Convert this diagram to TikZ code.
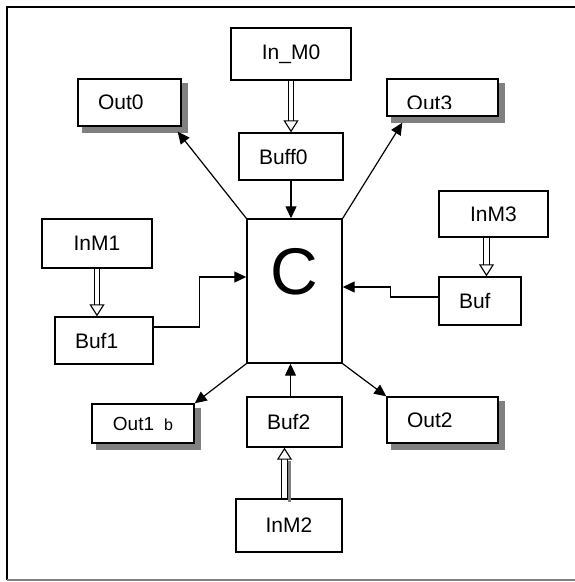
\documentclass[tikz,border=0pt]{standalone}
\usepackage{fontspec}
\setmainfont{Liberation Sans}
\usetikzlibrary{arrows.meta,calc}
\definecolor{shadowgray}{RGB}{128,128,128}
\tikzset{box/.style={draw,rectangle,line width=1.4pt,inner sep=0pt,fill=white,
		font=\fontsize{21}{24}\selectfont},
	lpad/.style={align=left,inner xsep=20pt,text width=#1},
	link/.style={line width=1.2pt,-{Triangle[length=12pt,width=11pt]}},
	hollow/.style={double,double distance=4.5pt,line width=1.1pt,
		-{Triangle[open,length=12pt,width=15pt]}},
	shade/.style={draw=shadowgray,line width=3.5pt},
	dropband/.style={draw=shadowgray,line width=5.3pt}}

\begin{document}
\begin{tikzpicture}
	[x=1pt,y=-1pt]
	\useasboundingbox (0,0) rectangle (575,582);
	\draw[line width=1.5pt] (578,7) -- (7,7) -- (7,580);
	\draw[shadowgray,line width=1.5pt] (7,580) -- (578,580);
	
	\node [box,minimum width=120pt,minimum height=52pt] (InM0) at (291,54) {In\_M0};
	\node [box,lpad=64pt,minimum height=47pt] (Buff0) at (291,156.5) {Buff0};
	\node [box,lpad=63pt,minimum height=47pt] (Out0) at (129.5,102.5) {Out0};
	\node [box,minimum width=111pt,minimum height=37pt] (Out3) at (442.5,97.5) {};
	\begin{scope}
		\clip (Out3.north west) rectangle ([yshift=8pt]Out3.south east);
		\node [box,draw=none,fill=none,anchor=base west] (Out3txt) at (406,110) {Out3};
	\end{scope}
	\node [box,minimum width=95pt,minimum height=144pt,text height=7pt,text depth=0pt,
		font=\fontsize{66}{70}\selectfont] (C) at (294.5,291) {C};
	\node [box,minimum width=110pt,minimum height=49pt] (InM1) at (97,243.5) {InM1};
	\node [box,lpad=58pt,minimum height=47pt] (Buf1) at (104,340.5) {Buf1};
	\node [box,minimum width=109pt,minimum height=46pt] (InM3) at (493.5,214) {InM3};
	\node [box,lpad=42pt,minimum height=48pt] (Buf) at (480,301) {Buf};
	\node [box,minimum width=102pt,minimum height=39pt,font=\fontsize{19}{22}\selectfont]
		(Out1) at (143,423.5) {Out1\hspace{10pt}{\fontsize{16}{16}\selectfont b}};
	\node [box,lpad=55pt,minimum height=50pt] (Buf2) at (294.5,422) {Buf2};
	\node [box,lpad=71pt,minimum height=46pt] (Out2) at (442.5,420) {Out2};
	\node [box,minimum width=106pt,minimum height=53pt] (InM2) at (289,525.5) {InM2};
	
	\foreach \n in {Out0,Out3,Out1,Out2}
	\draw[dropband] ([shift={(3.35pt,-5pt)}]\n.north east) |- ([shift={(5pt,-3.35pt)}]\n.south west);
	
	\draw[hollow] (InM0.south) -- (InM0.south |- Buff0.north);
	\draw[hollow] (InM1.south) -- (InM1.south |- Buf1.north);
	\draw[hollow] ($(InM3.south)+(-7,0)$) -- ($(InM3.south |- Buf.north)+(-7,0)$);
	\draw[shade] ($(InM2.north)+(0.5,4)$) -- ($(InM2.north |- Buf2.south)+(0.5,13)$);
	\draw[hollow] ($(InM2.north)+(-4.5,0)$) -- ($(InM2.north |- Buf2.south)+(-4.5,0)$);
	
	\draw[link] (Buff0.south) -- (Buff0.south |- C.north);
	\draw[link] ($(Buf2.north)+(-4,0)$) -- ($(Buf2.north |- C.south)+(-4,0)$);
	\draw[link] (C.north west) -- ([shift={(-4pt,-5pt)}]Out0.south east);
	\draw[link] (C.north east) -- ([shift={(16pt,-6pt)}]Out3.south west);
	\draw[link] (C.south west) -- (Out1.north east);
	\draw[link] (C.south east) -- (Out2.north west);
	\draw[link] ([yshift=13.5pt]Buf1.east) -- ++(46pt,0) |- ([yshift=14pt]C.west);
	\draw[link] ([yshift=4pt]Buf.west) -- ++(-48pt,0) |- ([yshift=4pt]C.east);
\end{tikzpicture}
\end{document}
